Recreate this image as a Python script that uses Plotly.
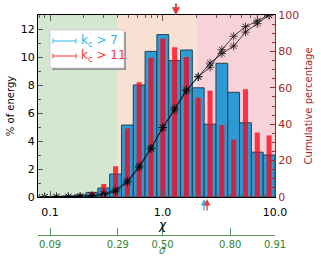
import numpy as np
import plotly.graph_objects as go

# ---- data ----
bin_centers_chi = [0.0896, 0.1141, 0.1454, 0.1851, 0.2358, 0.3003, 0.3825, 0.4870,
                   0.6202, 0.7898, 1.0058, 1.281, 1.631, 2.077, 2.646, 3.369,
                   4.290, 5.464, 6.958, 8.861]
bin_width_dex = 0.105
energy_kc7 = [0.03, 0.05, 0.08, 0.15, 0.33, 0.64, 1.64, 5.14, 8.0, 10.4, 11.6, 9.74,
              10.5, 7.8, 5.2, 9.55, 7.48, 5.3, 3.2, 3.0]
energy_kc11 = [0.02, 0.05, 0.1, 0.2, 0.36, 0.93, 2.2, 4.9, 8.2, 9.95, 11.3, 10.7,
               10.0, 7.1, 7.6, 5.14, 4.1, 7.7, 4.6, 4.4]
cum_kc7 = [0.03, 0.08, 0.16, 0.31, 0.64, 1.3, 2.9, 8.1, 16.1, 26.5, 38.1, 47.8,
           58.3, 66.1, 71.3, 80.9, 88.3, 93.6, 96.8, 100.0]
cum_kc11 = [0.02, 0.07, 0.17, 0.37, 0.73, 1.7, 3.9, 8.8, 17.0, 26.9, 38.2, 48.9,
            58.9, 66.0, 73.6, 78.8, 82.9, 90.6, 95.2, 100.0]

region_edges_chi = [0.4, 2.0]
region_colors = ['rgb(212,231,209)', 'rgb(248,225,210)', 'rgb(248,210,217)']

chi_ticks = [0.1, 1.0, 10.0]
chi_ticktext = ['0.1', '1.0', '10.0']
chi_minor = [0.08, 0.09, 0.2, 0.3, 0.4, 0.5, 0.6, 0.7, 0.8, 0.9,
             2, 3, 4, 5, 6, 7, 8, 9]
sigma_tick_chi = [0.1, 0.4, 1.0, 4.0, 10.0]
sigma_ticktext = ['0.09', '0.29', '0.50', '0.80', '0.91']

mean_top_chi = 1.32          # arrow at top
mean_bottom_chi = [2.34, 2.49]  # arrows at bottom (k_c>7, k_c>11)

x_range = [-1.107, 1.0]

CYAN = 'rgb(40,185,240)'
RED = 'rgb(255,50,50)'
DARKRED = 'rgb(165,40,40)'
GREEN = 'rgb(50,130,50)'
FONT = 'DejaVu Sans'

xl = np.log10(bin_centers_chi)

fig = go.Figure()

fig.add_trace(go.Bar(x=xl, y=energy_kc7, width=bin_width_dex,
                     marker=dict(color='rgba(30,150,210,0.93)',
                                 line=dict(color='rgb(35,65,85)', width=1)),
                     showlegend=False, hoverinfo='skip'))
fig.add_trace(go.Bar(x=xl, y=energy_kc11, width=bin_width_dex * 0.43,
                     marker=dict(color='rgba(255,0,20,0.76)', line=dict(width=0)),
                     showlegend=False, hoverinfo='skip'))
for cum in (cum_kc7, cum_kc11):
    fig.add_trace(go.Scatter(x=xl, y=cum, yaxis='y2', mode='lines+markers',
                             line=dict(color='black', width=0.7),
                             marker=dict(symbol='asterisk-open', size=7,
                                         line=dict(color='rgb(30,30,30)', width=0.7)),
                             showlegend=False, hoverinfo='skip'))
# dummy trace to activate the sigma axis
fig.add_trace(go.Scatter(x=[x_range[0], x_range[1]], y=[None, None], xaxis='x2',
                         mode='markers', showlegend=False, hoverinfo='skip'))

# background regions
edges = [x_range[0]] + list(np.log10(region_edges_chi)) + [x_range[1]]
for i, c in enumerate(region_colors):
    fig.add_shape(type='rect', xref='x', yref='y', x0=edges[i], x1=edges[i + 1],
                  y0=0, y1=13, fillcolor=c, line_width=0, layer='below')

# legend box (paper coords)
W, H = 321, 256
ml, mr, mt, mb = 38, 46, 15, 21
pw, ph = W - ml - mr, H - mt - mb


def px(x):
    return (x - ml) / pw


def py(y):
    return (H - mb - y) / ph


fig.add_shape(type='rect', xref='paper', yref='paper', x0=px(52), x1=px(126),
              y0=py(70), y1=py(32), fillcolor='rgb(150,150,150)', line_width=0)
fig.add_shape(type='rect', xref='paper', yref='paper', x0=px(50), x1=px(124),
              y0=py(68), y1=py(30), fillcolor='white',
              line=dict(color='rgb(200,200,200)', width=0.8))
for yy, col, txt in [(41, CYAN, 'k<sub>c</sub> &gt; 7'), (56, RED, 'k<sub>c</sub> &gt; 11')]:
    fig.add_shape(type='line', xref='paper', yref='paper', x0=px(53), x1=px(76),
                  y0=py(yy), y1=py(yy), line=dict(color=col, width=1))
    for xe in (53, 76):
        fig.add_shape(type='line', xref='paper', yref='paper', x0=px(xe), x1=px(xe),
                      y0=py(yy - 2.5), y1=py(yy + 2.5), line=dict(color=col, width=1))
    fig.add_annotation(xref='paper', yref='paper', x=px(79), y=py(yy), text=txt,
                       showarrow=False, xanchor='left', yanchor='middle',
                       font=dict(family=FONT, size=12, color=col))

# axis titles placed as annotations
fig.add_annotation(xref='x', yref='paper', x=0, y=py(225), text='<i>χ</i>',
                   showarrow=False, yanchor='middle', font=dict(size=12, color='black'))
fig.add_annotation(xref='x', yref='paper', x=0, y=py(250.5), text='<i>σ</i>',
                   showarrow=False, yanchor='middle', font=dict(size=10, color=GREEN))

# mean arrows
for dx, col in [(-0.004, CYAN), (0.0, RED)]:
    fig.add_annotation(x=np.log10(mean_top_chi) + dx, y=13, xref='x', yref='y',
                       text='', showarrow=True, ax=0, ay=-13, arrowhead=2,
                       arrowsize=1.1, arrowwidth=1.4, arrowcolor=col)
for xc, col in zip(mean_bottom_chi, [CYAN, RED]):
    fig.add_annotation(x=np.log10(xc), y=0, xref='x', yref='y', yshift=-2,
                       text='', showarrow=True, ax=0, ay=13, arrowhead=2,
                       arrowsize=1, arrowwidth=1.3, arrowcolor=col)

fig.update_layout(
    width=W, height=H, margin=dict(l=ml, r=mr, t=mt, b=mb, autoexpand=False),
    plot_bgcolor='white', paper_bgcolor='white', barmode='overlay',
    font=dict(family=FONT, size=11, color='black'),
    xaxis=dict(range=x_range, tickvals=list(np.log10(chi_ticks)), ticktext=chi_ticktext,
               ticks='inside', ticklen=6, tickcolor='rgb(90,90,90)', ticklabelstandoff=5,
               minor=dict(tickvals=list(np.log10(chi_minor)), ticks='inside', ticklen=3,
                          tickcolor='rgb(90,90,90)'),
               showline=True, linecolor='black', linewidth=1, mirror='ticks',
               showgrid=False, zeroline=False, anchor='y', automargin=False,
               tickfont=dict(size=11)),
    xaxis2=dict(range=x_range, overlaying='x', anchor='free', position=0, side='bottom',
                tickvals=list(np.log10(sigma_tick_chi)), ticktext=sigma_ticktext,
                ticks='inside', ticklen=7, tickcolor='rgb(90,150,90)',
                showline=True, linecolor='rgb(90,150,90)', linewidth=1,
                showgrid=False, zeroline=False, automargin=False,
                tickfont=dict(size=10, color=GREEN)),
    yaxis=dict(domain=[(H - mb - 197) / ph, 1], range=[0, 13], tick0=0, dtick=2,
               ticks='inside', ticklen=5, tickcolor='rgb(90,90,90)',
               minor=dict(dtick=1, ticks='inside', ticklen=3, tickcolor='rgb(90,90,90)'),
               showline=True, linecolor='black', linewidth=1,
               showgrid=False, zeroline=False, automargin=False,
               title=dict(text='% of energy', standoff=4, font=dict(size=10))),
    yaxis2=dict(overlaying='y', side='right', anchor='x', range=[0, 100], tick0=0, dtick=20,
                ticks='inside', ticklen=5, tickcolor=DARKRED,
                minor=dict(dtick=5, ticks='inside', ticklen=3, tickcolor=DARKRED),
                showline=True, linecolor=DARKRED, linewidth=1,
                showgrid=False, zeroline=False, automargin=False,
                tickfont=dict(size=11, color=DARKRED),
                title=dict(text='Cumulative percentage', standoff=6,
                           font=dict(size=10, color=DARKRED))),
)

fig.write_html('out.html', config={'displayModeBar': False},
               post_script="document.body.style.margin='0';")
